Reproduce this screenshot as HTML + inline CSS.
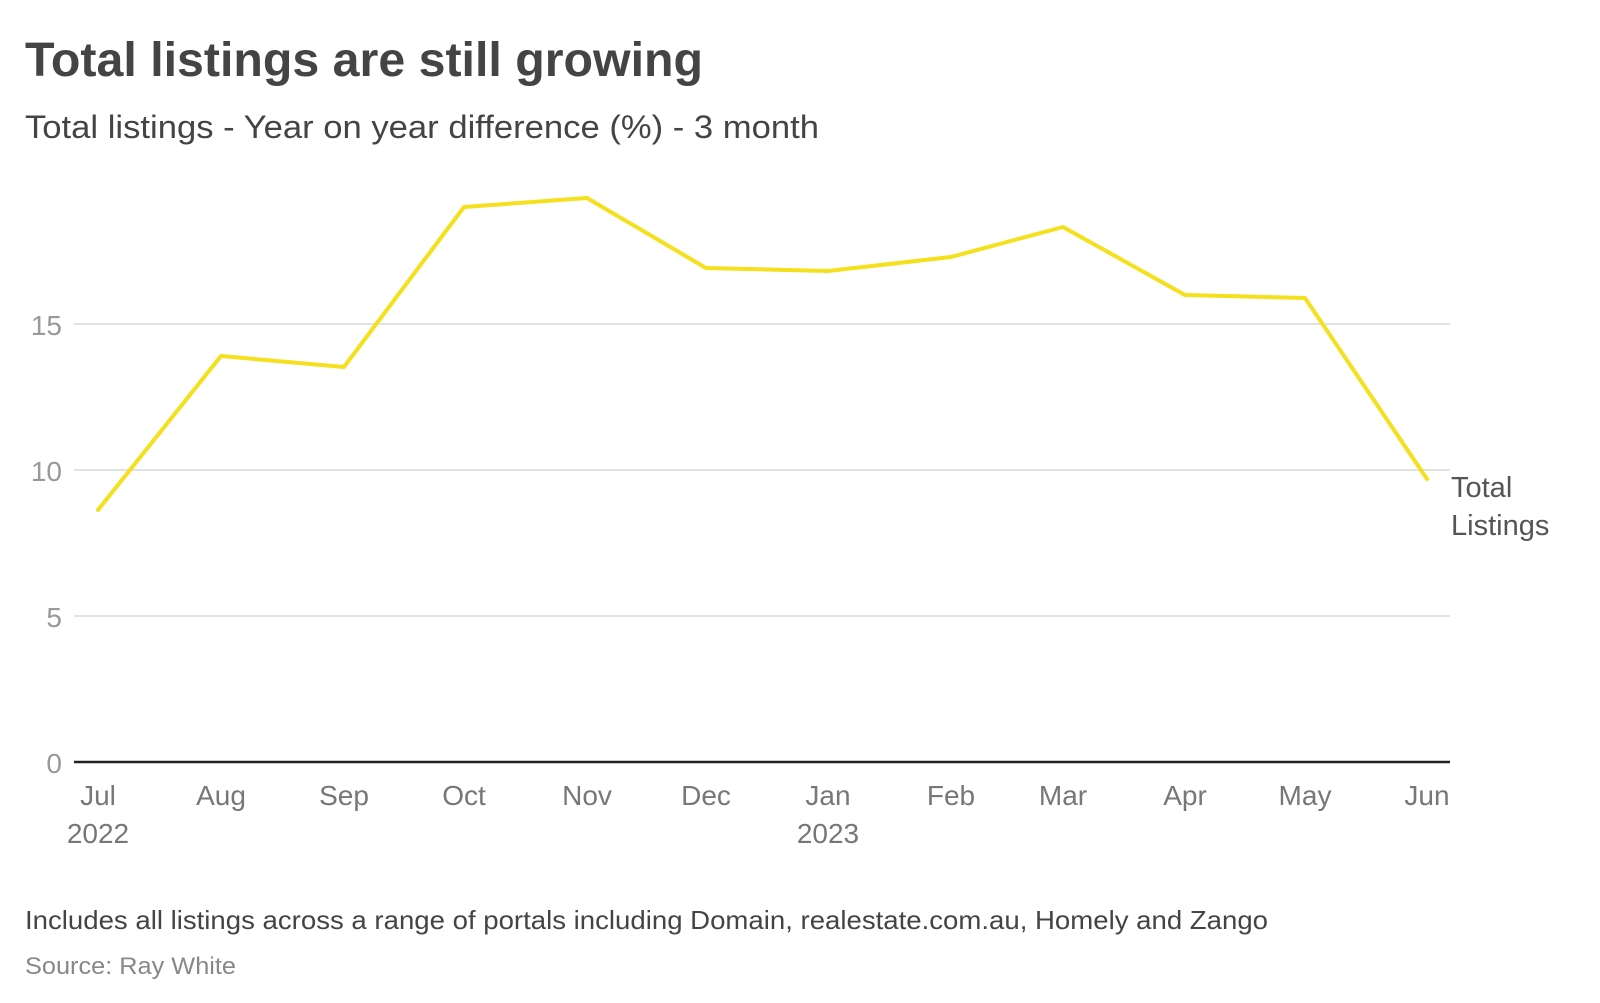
<!DOCTYPE html>
<html><head><meta charset="utf-8"><style>html,body{margin:0;padding:0;background:#fff}svg{display:block}</style></head>
<body>
<svg width="1600" height="1003" viewBox="0 0 1600 1003" xmlns="http://www.w3.org/2000/svg" font-family="Liberation Sans, sans-serif">
<rect width="1600" height="1003" fill="#fff"/>
<text x="25" y="76" font-size="48" font-weight="bold" fill="#444" textLength="678" lengthAdjust="spacingAndGlyphs">Total listings are still growing</text>
<text x="25" y="138" font-size="32" fill="#444" textLength="794" lengthAdjust="spacingAndGlyphs">Total listings - Year on year difference (%) - 3 month</text>
<g stroke="#e2e2e2" stroke-width="2">
<line x1="74" y1="324" x2="1450" y2="324"/>
<line x1="74" y1="470" x2="1450" y2="470"/>
<line x1="74" y1="616" x2="1450" y2="616"/>
</g>
<line x1="74" y1="762" x2="1450" y2="762" stroke="#222" stroke-width="2.5"/>
<g font-size="28" fill="#999" text-anchor="end">
<text x="62" y="335">15</text>
<text x="62" y="481">10</text>
<text x="62" y="627">5</text>
<text x="62" y="773">0</text>
</g>
<g font-size="28" fill="#777" text-anchor="middle">
<text x="98" y="805">Jul</text>
<text x="98" y="843">2022</text>
<text x="221" y="805">Aug</text>
<text x="344" y="805">Sep</text>
<text x="464" y="805">Oct</text>
<text x="587" y="805">Nov</text>
<text x="706" y="805">Dec</text>
<text x="828" y="805">Jan</text>
<text x="828" y="843">2023</text>
<text x="951" y="805">Feb</text>
<text x="1063" y="805">Mar</text>
<text x="1185" y="805">Apr</text>
<text x="1305" y="805">May</text>
<text x="1427" y="805">Jun</text>
</g>
<polyline fill="none" stroke="#f4e01c" stroke-width="4" stroke-linejoin="round" stroke-linecap="round"
points="98,510 221,356 344,367 464,207 587,198 706,268 828,271 951,257 1063,227 1185,295 1305,298 1427,479"/>
<g font-size="29" fill="#555">
<text x="1451" y="497">Total</text>
<text x="1451" y="535">Listings</text>
</g>
<text x="25" y="929" font-size="26" fill="#444" textLength="1243" lengthAdjust="spacingAndGlyphs">Includes all listings across a range of portals including Domain, realestate.com.au, Homely and Zango</text>
<text x="25" y="974" font-size="24" fill="#888" textLength="211" lengthAdjust="spacingAndGlyphs">Source: Ray White</text>
</svg>
</body></html>
